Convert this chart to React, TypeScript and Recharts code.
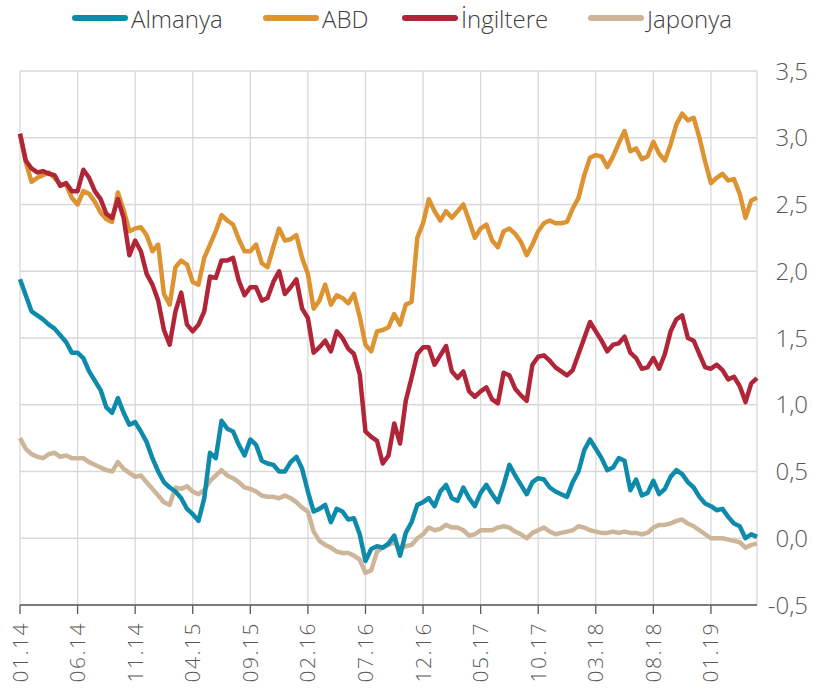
import React from "react";
import { LineChart, Line, XAxis, YAxis, CartesianGrid } from "recharts";

// 10 yillik tahvil faizleri, yarim ayda bir okuma (01.14 - 05.19)
const almanya = [
  1.94, 1.82, 1.7, 1.67, 1.64, 1.6, 1.57, 1.52, 1.47, 1.39,
  1.39, 1.35, 1.25, 1.18, 1.11, 0.98, 0.94, 1.05, 0.94, 0.85,
  0.87, 0.8, 0.72, 0.6, 0.5, 0.42, 0.38, 0.35, 0.3, 0.22,
  0.18, 0.13, 0.3, 0.64, 0.6, 0.88, 0.82, 0.8, 0.7, 0.62,
  0.74, 0.7, 0.58, 0.56, 0.55, 0.5, 0.5, 0.57, 0.61, 0.52,
  0.35, 0.2, 0.22, 0.25, 0.12, 0.22, 0.2, 0.14, 0.15, 0.03,
  -0.17, -0.08, -0.06, -0.07, -0.04, 0.02, -0.13, 0.04, 0.12, 0.25,
  0.27, 0.3, 0.24, 0.35, 0.4, 0.3, 0.28, 0.38, 0.3, 0.24,
  0.34, 0.4, 0.33, 0.27, 0.4, 0.55, 0.47, 0.4, 0.33, 0.42,
  0.45, 0.44, 0.38, 0.35, 0.33, 0.31, 0.42, 0.5, 0.66, 0.74,
  0.67, 0.6, 0.51, 0.53, 0.6, 0.58, 0.36, 0.44, 0.32, 0.34,
  0.43, 0.33, 0.37, 0.46, 0.51, 0.48, 0.42, 0.38, 0.31, 0.26,
  0.24, 0.21, 0.22, 0.16, 0.11, 0.09, 0.0, 0.03, 0.01,
];

const abd = [
  3.03, 2.82, 2.67, 2.7, 2.72, 2.74, 2.7, 2.65, 2.65, 2.55,
  2.5, 2.6, 2.58, 2.52, 2.44, 2.39, 2.37, 2.59, 2.46, 2.3,
  2.32, 2.33, 2.27, 2.15, 2.2, 1.83, 1.75, 2.03, 2.08, 2.05,
  1.92, 1.9, 2.1, 2.2, 2.3, 2.42, 2.38, 2.35, 2.24, 2.15,
  2.15, 2.2, 2.06, 2.03, 2.18, 2.32, 2.23, 2.24, 2.27, 2.1,
  1.98, 1.72, 1.78, 1.9, 1.75, 1.82, 1.8, 1.76, 1.83, 1.66,
  1.45, 1.4, 1.55, 1.56, 1.58, 1.68, 1.6, 1.75, 1.77, 2.25,
  2.36, 2.54, 2.45, 2.38, 2.45, 2.4, 2.45, 2.5, 2.38, 2.25,
  2.32, 2.35, 2.23, 2.18, 2.3, 2.32, 2.28, 2.22, 2.12, 2.2,
  2.3, 2.36, 2.38, 2.36, 2.36, 2.37, 2.47, 2.55, 2.72, 2.85,
  2.87, 2.86, 2.78, 2.86, 2.96, 3.05, 2.9, 2.92, 2.84, 2.86,
  2.97, 2.88, 2.83, 2.95, 3.1, 3.18, 3.13, 3.15, 3.0, 2.82,
  2.66, 2.7, 2.73, 2.68, 2.69, 2.58, 2.4, 2.53, 2.55,
];

const ingiltere = [
  3.03, 2.83, 2.77, 2.74, 2.75, 2.73, 2.72, 2.64, 2.66, 2.6,
  2.6, 2.76, 2.7, 2.6, 2.54, 2.43, 2.4, 2.54, 2.4, 2.12,
  2.23, 2.15, 1.98, 1.9, 1.78, 1.56, 1.45, 1.7, 1.84, 1.6,
  1.55, 1.6, 1.7, 1.96, 1.95, 2.08, 2.08, 2.1, 1.93, 1.82,
  1.88, 1.88, 1.78, 1.8, 1.92, 2.0, 1.83, 1.88, 1.94, 1.72,
  1.65, 1.39, 1.43, 1.48, 1.4, 1.55, 1.5, 1.42, 1.38, 1.23,
  0.8, 0.76, 0.73, 0.56, 0.62, 0.86, 0.71, 1.03, 1.2, 1.38,
  1.43, 1.43, 1.3, 1.37, 1.44, 1.25, 1.2, 1.25, 1.1, 1.06,
  1.1, 1.13, 1.04, 1.01, 1.24, 1.22, 1.12, 1.07, 1.03, 1.3,
  1.36, 1.37, 1.33, 1.28, 1.25, 1.22, 1.26, 1.38, 1.5, 1.62,
  1.55, 1.48, 1.4, 1.45, 1.46, 1.51, 1.39, 1.35, 1.27, 1.28,
  1.35, 1.27, 1.38, 1.55, 1.64, 1.67, 1.5, 1.48, 1.38, 1.28,
  1.27, 1.3, 1.26, 1.19, 1.21, 1.14, 1.02, 1.16, 1.2,
];

const japonya = [
  0.75, 0.67, 0.63, 0.61, 0.6, 0.63, 0.64, 0.61, 0.62, 0.6,
  0.6, 0.6, 0.57, 0.55, 0.53, 0.51, 0.5, 0.57, 0.52, 0.49,
  0.46, 0.47, 0.42, 0.37, 0.32, 0.27, 0.25, 0.38, 0.37, 0.39,
  0.35, 0.33, 0.36, 0.43, 0.47, 0.51, 0.47, 0.45, 0.42, 0.38,
  0.37, 0.35, 0.32, 0.31, 0.31, 0.3, 0.32, 0.3, 0.27, 0.23,
  0.2, 0.05, -0.02, -0.05, -0.07, -0.1, -0.11, -0.11, -0.13, -0.16,
  -0.26, -0.24, -0.1, -0.07, -0.05, -0.03, -0.08, -0.06, -0.05, 0.0,
  0.03, 0.08, 0.06, 0.07, 0.1, 0.08, 0.08, 0.06, 0.02, 0.03,
  0.06, 0.06, 0.06, 0.08, 0.09, 0.08, 0.05, 0.03, 0.0, 0.04,
  0.06, 0.08, 0.05, 0.03, 0.04, 0.05, 0.06, 0.09, 0.08, 0.06,
  0.05, 0.04, 0.04, 0.05, 0.04, 0.05, 0.04, 0.04, 0.03, 0.04,
  0.08, 0.1, 0.1, 0.11, 0.13, 0.14, 0.11, 0.09, 0.06, 0.03,
  0.0, 0.0, 0.0, -0.01, -0.02, -0.03, -0.07, -0.05, -0.04,
];

// x ekseni: ay sayisi (01.14 = 0)
const xTicks = [0, 5, 10, 15, 20, 25, 30, 35, 40, 45, 50, 55, 60];
const xLabels = [
  "01.14", "06.14", "11.14", "04.15", "09.15", "02.16", "07.16",
  "12.16", "05.17", "10.17", "03.18", "08.18", "01.19",
];
const yTicks = [-0.5, 0, 0.5, 1, 1.5, 2, 2.5, 3, 3.5];

const series = [
  { key: "japonya", name: "Japonya", color: "#cdb599" },
  { key: "almanya", name: "Almanya", color: "#0e8aab" },
  { key: "abd", name: "ABD", color: "#dd9332" },
  { key: "ingiltere", name: "İngiltere", color: "#b02538" },
];

const legendItems = [
  { name: "Almanya", color: "#0e8aab", left: 72 },
  { name: "ABD", color: "#dd9332", left: 263 },
  { name: "İngiltere", color: "#b02538", left: 402 },
  { name: "Japonya", color: "#cdb599", left: 588 },
];

const data = almanya.map((v, i) => ({
  m: i / 2,
  almanya: v,
  abd: abd[i],
  ingiltere: ingiltere[i],
  japonya: japonya[i],
}));

const FONT = "'Open Sans', 'DejaVu Sans', sans-serif";

const XTick = (props: any) => {
  const { x, y, payload } = props;
  const label = xLabels[xTicks.indexOf(payload.value)];
  return (
    <text
      x={x}
      y={y}
      transform={`rotate(-90 ${x} ${y})`}
      textAnchor="end"
      dy="0.36em"
      fill="#595959"
      fontSize={21}
      fontWeight={300}
      letterSpacing={1.5}
      fontFamily={FONT}
    >
      {label}
    </text>
  );
};

const YTick = (props: any) => {
  const { y, payload } = props;
  return (
    <text
      x={808}
      y={y}
      dy="0.36em"
      textAnchor="end"
      fill="#595959"
      fontSize={24}
      fontWeight={300}
      fontFamily={FONT}
    >
      {payload.value.toFixed(1).replace(".", ",")}
    </text>
  );
};

const App = () => {
  return (
    <div style={{ position: "absolute", left: 0, top: 0, width: 828, height: 695, background: "#fff" }}>
      {/* Legend */}
      {legendItems.map((item) => (
        <div
          key={item.name}
          style={{
            position: "absolute",
            left: item.left,
            top: 3,
            height: 30,
            display: "flex",
            alignItems: "center",
            fontFamily: FONT,
            fontWeight: 300,
            fontSize: 24,
            color: "#404040",
          }}
        >
          <span
            style={{
              display: "inline-block",
              width: 56,
              height: 6,
              borderRadius: 3,
              background: item.color,
              marginRight: 3,
            }}
          />
          {item.name}
        </div>
      ))}

      <LineChart
        width={828}
        height={695}
        data={data}
        margin={{ top: 71, right: 0, left: 20, bottom: 0 }}
      >
        <CartesianGrid stroke="#d9d9d9" strokeWidth={1.3} />
        <XAxis
          dataKey="m"
          type="number"
          domain={[0, 64]}
          ticks={xTicks}
          interval={0}
          height={90}
          axisLine={{ stroke: "#595959", strokeWidth: 1.3 }}
          tickLine={{ stroke: "#595959", strokeWidth: 1.3 }}
          tickSize={9}
          tickMargin={8}
          tick={<XTick />}
        />
        <YAxis
          orientation="right"
          type="number"
          domain={[-0.5, 3.5]}
          ticks={yTicks}
          interval={0}
          width={71}
          axisLine={false}
          tickLine={false}
          tick={<YTick />}
        />
        {series.map((s) => (
          <Line
            key={s.key}
            dataKey={s.key}
            name={s.name}
            type="linear"
            stroke={s.color}
            strokeWidth={4.5}
            strokeLinejoin="round"
            dot={false}
            isAnimationActive={false}
          />
        ))}
      </LineChart>
    </div>
  );
};

export default App;
